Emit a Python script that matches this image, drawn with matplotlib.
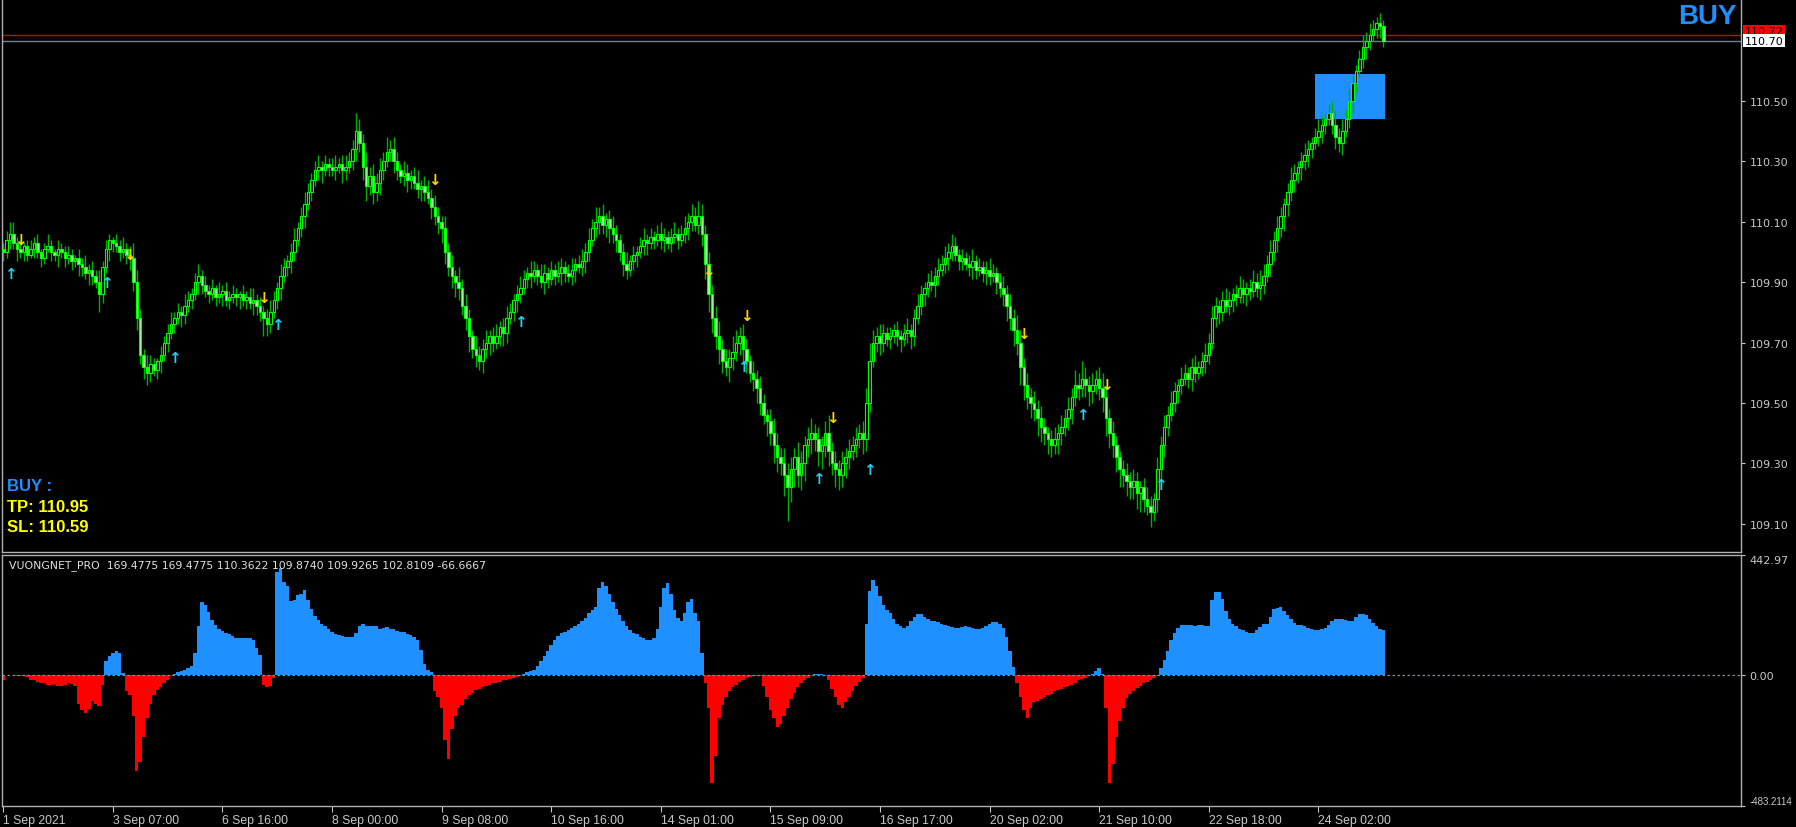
import matplotlib
matplotlib.use("Agg")
import matplotlib.pyplot as plt
from matplotlib.patches import Rectangle
from matplotlib.transforms import blended_transform_factory

# USDJPY H1 closes, in pips above 109.00
closes = [
    100, 104, 106, 103, 101, 100,
    102, 99, 101, 103, 100, 98, 101, 102, 100, 99, 101, 100, 98, 99, 97, 98, 96,
    95, 93, 94, 92, 90,
    86,
    95, 101, 104, 103, 102, 100,
    101, 99, 98,
    90, 78, 66, 62,
    60, 63, 61, 64, 66,
    70, 73, 76, 78, 80, 79, 82,
    84, 86, 90, 92, 89,
    87, 86, 88, 85, 86, 87, 84, 85, 86, 85, 86, 84, 85, 83, 84, 82, 80,
    78, 76, 80,
    84, 88, 92, 95, 97,
    100, 104, 108,
    112, 116, 120, 124, 127,
    128, 127, 129, 128, 127, 128, 129, 127, 128, 130,
    134, 140, 136,
    128, 122, 125, 120, 123,
    127, 130, 133, 134,
    130, 127, 125, 126, 124,
    125, 123, 121, 122, 120,
    118, 115, 112, 110, 108,
    100, 95, 92, 90, 88,
    82, 78, 72, 68, 66,
    64, 68, 70, 72,
    70, 72, 75, 73, 78, 80,
    84, 86, 88, 91, 93, 92, 94,
    92, 90, 93, 91, 94, 92, 93, 95, 93, 92, 94, 96, 95, 97,
    100, 104, 108, 110, 112, 109, 111,
    108, 106, 104, 100,
    96, 94, 97, 99,
    100, 102, 104, 103, 105, 104, 106, 104, 105, 103, 105, 106, 104,
    106, 108, 110, 112, 109,
    112, 106, 96,
    86, 78, 72, 68,
    64, 62, 65, 67, 70,
    72, 68, 64,
    60, 58, 55, 50, 46,
    44, 40, 36, 32,
    30, 26, 22, 28, 32, 26, 30,
    36, 38, 40, 38, 34, 36, 40,
    34, 30, 28, 26, 30, 32, 34,
    36, 38, 40, 38,
    50, 64, 70,
    72, 70, 73, 71, 72, 74, 72, 71, 73, 74, 72,
    78, 82, 86, 88, 90, 89, 92, 94,
    96, 98, 100, 102, 99, 97, 98,
    96, 95, 97, 94, 95, 93, 94, 92,
    93, 90, 88, 86,
    82, 78, 74, 70,
    62, 56, 52, 50, 48,
    45, 42, 40, 38, 36, 38,
    40, 42, 45, 48, 52,
    56, 55, 58, 56,
    54, 56, 58, 55, 52,
    45, 40, 36, 32,
    28, 26, 24, 22, 24, 20, 22, 18,
    16, 14, 18,
    28, 36, 42, 46, 50, 54,
    56, 58, 60, 58, 62, 60, 62,
    64, 66, 70,
    78, 82, 80, 84,
    82, 84, 86, 85, 88, 86, 88,
    87, 90, 88, 89, 92, 96,
    100, 104, 108, 112, 116,
    120, 124, 126, 128, 130, 132, 134,
    136, 138, 140, 142, 144,
    146, 142, 138, 136, 140,
    144, 150, 156, 160, 164,
    168, 170, 172, 174, 176, 175, 170,
]
first_open = 101

# wick lengths (pips) above / below the body
wick_up = [
    2, 3, 4, 4, 2, 3, 1, 2, 3, 2, 3, 1, 2, 4, 2, 1, 3, 2, 2, 3,
    2, 1, 3, 2, 4, 2, 3, 2, 4, 2, 3, 2, 1, 3, 2, 4, 2, 3, 5, 4,
    3, 2, 4, 3, 2, 1, 3, 2, 3, 4, 2, 3, 2, 4, 3, 2, 3, 4, 2, 3,
    2, 3, 1, 4, 2, 3, 2, 3, 2, 1, 3, 2, 3, 4, 2, 3, 2, 3, 4, 3,
    2, 4, 3, 2, 3, 4, 2, 3, 4, 3, 2, 3, 4, 2, 3, 2, 3, 4, 2, 3,
    4, 3, 3, 6, 4, 3, 5, 3, 4, 3, 4, 3, 5, 3, 4, 3, 2, 4, 3, 2,
    3, 4, 2, 3, 4, 3, 4, 3, 2, 4, 3, 4, 2, 5, 3, 4, 3, 2, 4, 3,
    3, 4, 2, 3, 4, 2, 3, 4, 3, 2, 3, 4, 3, 2, 4, 3, 2, 4, 3, 2,
    3, 2, 4, 3, 2, 3, 4, 2, 3, 4, 3, 4, 3, 5, 3, 4, 2, 3, 4, 3,
    2, 3, 4, 2, 3, 2, 3, 4, 2, 3, 2, 3, 4, 3, 2, 3, 4, 2, 3, 4,
    3, 4, 3, 5, 4, 3, 4, 3, 4, 5, 3, 4, 3, 5, 4, 3, 4, 3, 2, 4,
    3, 4, 3, 2, 4, 5, 4, 3, 5, 4, 4, 3, 5, 4, 3, 4, 5, 3, 4, 3,
    4, 6, 3, 4, 3, 4, 3, 4, 3, 4, 3, 4, 5, 6, 4, 3, 4, 3, 2, 3,
    2, 3, 2, 3, 4, 2, 3, 4, 3, 2, 3, 4, 3, 4, 3, 4, 3, 4, 3, 2,
    3, 2, 3, 4, 2, 3, 2, 3, 4, 3, 2, 3, 4, 3, 4, 3, 5, 4, 3, 4,
    3, 4, 3, 4, 3, 2, 3, 4, 3, 4, 3, 4, 3, 5, 4, 6, 4, 3, 4, 3,
    4, 5, 4, 3, 4, 3, 2, 3, 4, 3, 4, 3, 2, 3, 4, 3, 2, 4, 3, 4,
    3, 4, 3, 2, 4, 3, 2, 3, 4, 2, 3, 4, 3, 4, 3, 2, 3, 4, 3, 2,
    3, 4, 3, 2, 3, 4, 3, 5, 4, 3, 4, 3, 4, 3, 2, 3, 4, 3, 2, 3,
    4, 3, 2, 3, 4, 3, 2, 3, 4, 5, 3, 4, 3, 4, 3, 2, 3, 4, 3, 4,
    3, 2, 3, 2,
]
wick_dn = [
    3, 2, 3, 2, 4, 2, 3, 2, 1, 3, 2, 3, 2, 1, 3, 2, 4, 2, 3, 2,
    3, 2, 4, 3, 2, 4, 3, 2, 6, 3, 2, 4, 3, 2, 3, 2, 3, 4, 3, 4,
    3, 4, 4, 3, 2, 3, 4, 2, 3, 2, 3, 2, 4, 3, 2, 3, 2, 4, 3, 2,
    3, 2, 3, 2, 4, 2, 3, 2, 3, 4, 2, 3, 2, 4, 3, 3, 6, 4, 3, 2,
    3, 4, 2, 3, 4, 3, 2, 3, 4, 2, 3, 2, 3, 4, 2, 3, 2, 3, 2, 4,
    3, 2, 3, 4, 3, 4, 5, 3, 4, 3, 4, 3, 2, 3, 4, 3, 2, 3, 4, 3,
    2, 3, 4, 3, 2, 4, 3, 4, 5, 4, 3, 4, 5, 4, 3, 4, 5, 3, 4, 3,
    4, 3, 4, 3, 2, 3, 4, 3, 2, 3, 4, 3, 2, 3, 4, 2, 3, 2, 4, 3,
    2, 3, 2, 4, 3, 2, 3, 4, 2, 3, 4, 3, 2, 3, 4, 3, 4, 5, 3, 4,
    3, 4, 3, 2, 3, 4, 2, 3, 4, 2, 3, 2, 3, 4, 2, 3, 2, 3, 2, 3,
    4, 3, 2, 3, 4, 5, 6, 5, 4, 5, 4, 3, 5, 4, 3, 4, 5, 4, 3, 4,
    5, 4, 3, 5, 4, 6, 5, 4, 7, 11, 5, 6, 4, 5, 6, 4, 5, 4, 5, 6,
    4, 5, 4, 6, 5, 4, 5, 4, 3, 4, 3, 5, 4, 3, 2, 3, 4, 3, 2, 3,
    2, 3, 4, 2, 3, 4, 3, 2, 3, 4, 3, 2, 4, 3, 2, 3, 4, 3, 2, 3,
    3, 2, 3, 4, 3, 2, 3, 4, 3, 2, 4, 3, 4, 5, 4, 5, 4, 6, 5, 4,
    5, 4, 6, 5, 4, 5, 4, 3, 5, 4, 3, 4, 5, 3, 4, 3, 4, 5, 4, 3,
    4, 5, 6, 5, 4, 5, 6, 4, 5, 4, 4, 5, 6, 4, 3, 5, 3, 4, 5, 4,
    3, 2, 3, 4, 3, 2, 3, 4, 3, 2, 3, 4, 3, 2, 3, 4, 3, 2, 3, 4,
    3, 2, 3, 4, 3, 2, 3, 4, 3, 2, 4, 3, 4, 3, 5, 4, 3, 4, 3, 4,
    3, 4, 3, 2, 3, 4, 3, 2, 3, 4, 3, 4, 2, 3, 4, 3, 2, 3, 4, 3,
    2, 3, 4, 2,
]

# VUONGNET_PRO histogram, one value per bar
hist = [
    -17, 0, 2, 2, -3, -5, -5, -8, -20, -20,
    -25, -28, -30, -38, -35, -32, -40, -40, -35, -30,
    -32, -40, -105, -130, -140, -125, -95, -105, -115, -35,
    50, 70, 80, 88, 80, 8, -60, -75, -150, -355,
    -320, -230, -160, -105, -75, -55, -45, -30, -18, -5,
    5, 10, 15, 20, 25, 35, 80, 180, 270, 260,
    233, 202, 186, 171, 161, 155, 150, 145, 138, 138,
    138, 138, 138, 128, 100, 75, -35, -45, -40, -10,
    380, 394, 345, 330, 273, 277, 295, 298, 314, 277,
    245, 218, 202, 190, 181, 171, 159, 152, 146, 143,
    140, 140, 142, 155, 181, 190, 181, 181, 181, 181,
    171, 174, 177, 171, 169, 164, 157, 157, 152, 146,
    140, 128, 91, 41, 17, 12, -60, -80, -120, -240,
    -310, -200, -150, -120, -110, -90, -75, -65, -55, -50,
    -45, -40, -35, -30, -28, -25, -20, -18, -14, -10,
    -6, -3, 5, 10, 15, 20, 35, 50, 70, 90,
    110, 130, 145, 155, 160, 165, 175, 180, 190, 200,
    210, 230, 240, 250, 320, 345, 330, 300, 270, 245,
    220, 200, 180, 165, 155, 150, 140, 135, 130, 130,
    135, 170, 250, 320, 340, 300, 240, 210, 200, 230,
    270, 280, 230, 200, 80, -30, -120, -400, -300, -160,
    -110, -80, -60, -45, -35, -25, -18, -12, -8, -5,
    -3, -2, -40, -80, -130, -160, -190, -180, -150, -120,
    -90, -65, -45, -30, -18, -10, -4, 3, 4, 3,
    -2, -20, -50, -80, -110, -120, -100, -80, -60, -40,
    -25, -10, 190, 310, 350, 330, 290, 260, 240, 230,
    205, 190, 180, 175, 180, 200, 215, 225, 225, 215,
    205, 200, 200, 195, 190, 185, 180, 178, 175, 175,
    178, 180, 178, 175, 170, 170, 172, 180, 190, 195,
    195, 190, 175, 140, 90, 30, -30, -80, -130, -160,
    -120, -100, -95, -90, -80, -75, -70, -60, -55, -50,
    -45, -40, -35, -28, -20, -15, -10, -5, 5, 15,
    25, 5, -120, -400, -330, -230, -170, -120, -85, -70,
    -58, -48, -40, -28, -25, -20, -10, -3, 25, 57,
    90, 130, 156, 175, 183, 186, 183, 183, 181, 183,
    183, 181, 181, 277, 307, 305, 279, 236, 206, 187,
    181, 171, 165, 159, 156, 156, 165, 177, 190, 190,
    215, 242, 246, 252, 236, 223, 206, 193, 183, 183,
    181, 174, 169, 166, 166, 169, 174, 186, 200, 207,
    207, 205, 202, 198, 198, 215, 227, 227, 221, 205,
    192, 180, 171, 167,
]

# signal arrows: bar index and price
sell_bars = [5, 37, 76, 126, 206, 217, 242, 298, 322]
sell_prices = [110.04, 109.99, 109.85, 110.24, 109.94, 109.79, 109.45, 109.73, 109.56]
buy_bars = [2, 30, 50, 80, 151, 216, 238, 253, 315, 338]
buy_prices = [109.93, 109.90, 109.65, 109.76, 109.77, 109.62, 109.25, 109.28, 109.46, 109.23]

box_start, box_end = 383, 403.5
box_lo, box_hi = 110.44, 110.59
bid, ask = 110.70, 110.72

price_ticks = [109.10, 109.30, 109.50, 109.70, 109.90, 110.10, 110.30, 110.50]
ind_max, ind_min = 442.97, -483.2114
date_pos = [0, 32, 64, 96, 128, 160, 192, 224, 256, 288, 320, 352, 384]
date_labels = ["1 Sep 2021", "3 Sep 07:00", "6 Sep 16:00", "8 Sep 00:00", "9 Sep 08:00",
               "10 Sep 16:00", "14 Sep 01:00", "15 Sep 09:00", "16 Sep 17:00",
               "20 Sep 02:00", "21 Sep 10:00", "22 Sep 18:00", "24 Sep 02:00"]

W, H = 1796, 828
fig = plt.figure(figsize=(W / 100, H / 100), dpi=100, facecolor="black")
ax = fig.add_axes([2 / W, 1 - 553 / H, 1739 / W, 553 / H])
axi = fig.add_axes([2 / W, 1 - 807 / H, 1739 / W, 251 / H])

axis_col = "#C8C8C8"
for a in (ax, axi):
    a.set_facecolor("black")
    for s in a.spines.values():
        s.set_color("#B0B0B0")
        s.set_linewidth(1.0)
    a.set_xlim(-0.35, 507.4)
    a.yaxis.tick_right()
    a.tick_params(axis="y", colors=axis_col, labelsize=8, length=3, pad=3)
ax.spines["top"].set_visible(False)

# candles
opens = [first_open] + closes[:-1]
for i, (o, c, u, d) in enumerate(zip(opens, closes, wick_up, wick_dn)):
    top, bot = max(o, c), min(o, c)
    hi = 109 + (top + u) / 100
    lo = 109 + (bot - d) / 100
    ax.vlines(i, lo, hi, color="#00B000", linewidth=1.0, zorder=2)
    fill = "black" if c >= o else "#A8F5A8"
    h = max((top - bot) / 100, 0.0004)
    ax.bar(i, h, bottom=109 + bot / 100, width=0.72, color=fill,
           edgecolor="#00FF00", linewidth=0.8, zorder=3)

ax.add_patch(Rectangle((box_start, box_lo), box_end - box_start, box_hi - box_lo,
                       facecolor="#1E90FF", edgecolor="none", zorder=1))

for b, p in zip(sell_bars, sell_prices):
    ax.text(b, p, "↓", ha="center", va="center", color="#FFD700",
            fontsize=11, fontweight="bold", zorder=4)
for b, p in zip(buy_bars, buy_prices):
    ax.text(b, p, "↑", ha="center", va="center", color="#20D0F0",
            fontsize=11, fontweight="bold", zorder=4)

ax.axhline(ask, color="#D00000", linewidth=1.0, zorder=1)
ax.axhline(bid, color="#708090", linewidth=1.0, zorder=1)

ax.set_ylim(109.006, 110.838)
ax.set_xticks([])
ax.set_yticks(price_ticks)
ax.set_yticklabels([f"{v:.2f}" for v in price_ticks])

tr = blended_transform_factory(ax.transAxes, ax.transData)
ax.text(1.002, ask + 0.012, "110.72", transform=tr, ha="left", va="center",
        fontsize=8, color="black", clip_on=False,
        bbox=dict(facecolor="#FF0000", edgecolor="none", pad=1.0))
ax.text(1.002, bid, "110.70", transform=tr, ha="left", va="center",
        fontsize=8, color="black", clip_on=False,
        bbox=dict(facecolor="white", edgecolor="none", pad=1.2))

# indicator panel
cols = ["#1E90FF" if v >= 0 else "#FF0000" for v in hist]
axi.bar(range(len(hist)), hist, width=1.0, color=cols, linewidth=0)
axi.axhline(0, color="#7F8FA0", linewidth=0.9, linestyle=(0, (2, 2)))
axi.set_ylim(ind_min, ind_max)
axi.set_yticks([ind_max, 0, ind_min])
axi.set_yticklabels(["442.97", "0.00", "-483.2114"])
ylabs = axi.get_yticklabels()
ylabs[0].set_va("top")
ylabs[2].set_va("bottom")
ylabs[2].set_family("Liberation Sans")
ylabs[2].set_fontsize(7)
axi.set_xticks(date_pos)
axi.set_xticklabels(date_labels, ha="left")
axi.tick_params(axis="x", colors=axis_col, length=4, pad=2)
for t in axi.get_xticklabels():
    t.set_family("Liberation Sans")
    t.set_fontsize(8.8)

fig.text(9 / W, 1 - 566 / H,
         "VUONGNET_PRO  169.4775 169.4775 110.3622 109.8740 109.9265 102.8109 -66.6667",
         color="#E0E0E0", fontsize=7.8, va="center", ha="left")

# signal text
fig.text(1737 / W, 1 - 17 / H, "BUY", ha="right", va="center", fontsize=20,
         fontweight="bold", color="#1E90FF", family="Liberation Sans")
fig.text(7 / W, 1 - 487 / H, "BUY :", ha="left", va="center", fontsize=12,
         fontweight="bold", color="#1E90FF", family="Liberation Sans")
fig.text(7 / W, 1 - 508 / H, "TP: 110.95", ha="left", va="center", fontsize=12,
         fontweight="bold", color="#FFFF00", family="Liberation Sans")
fig.text(7 / W, 1 - 527 / H, "SL: 110.59", ha="left", va="center", fontsize=12,
         fontweight="bold", color="#FFFF00", family="Liberation Sans")

fig.savefig("out.png", dpi=100, facecolor="black")
